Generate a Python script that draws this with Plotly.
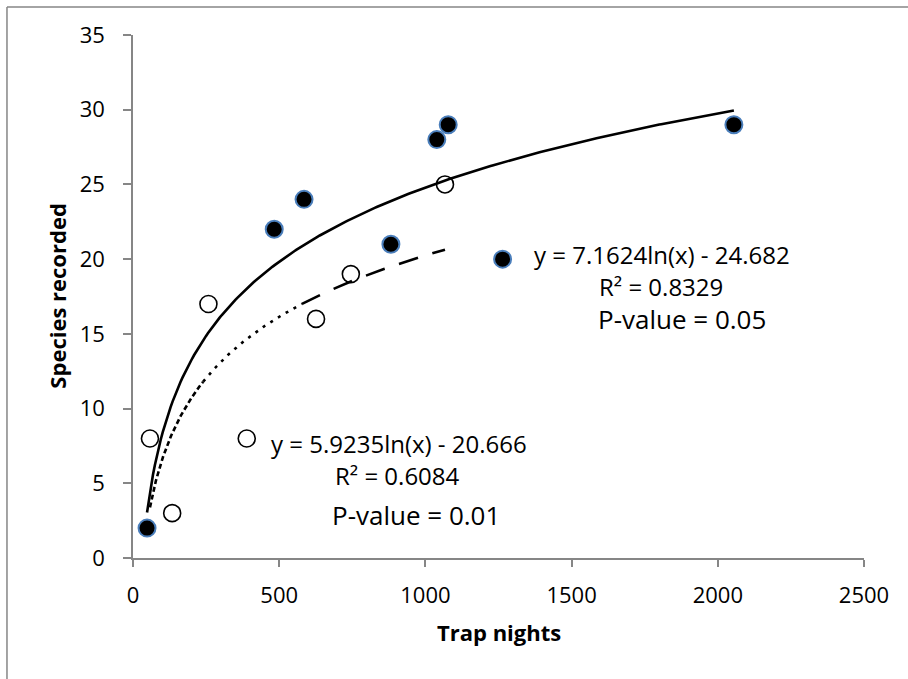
import numpy as np
import plotly.graph_objects as go

# ---- data ----
filled_x = [48, 483, 585, 882, 1039, 1078, 1264, 2055]
filled_y = [2, 22, 24, 21, 28, 29, 20, 29]

open_x = [58, 134, 258, 389, 626, 745, 1067]
open_y = [8, 3, 17, 8, 16, 19, 25]

# logarithmic trend line coefficients shown on the chart
filled_a, filled_b = 7.1624, -24.682
open_a, open_b = 5.9235, -20.666

x_ticks = [0, 500, 1000, 1500, 2000, 2500]
y_ticks = [0, 5, 10, 15, 20, 25, 30, 35]

FONT = "Open Sans"

fig = go.Figure()

fig.add_trace(go.Scatter(
    x=open_x, y=open_y, mode="markers",
    marker=dict(size=17, color="white", line=dict(color="black", width=1.6)),
    showlegend=False))
fig.add_trace(go.Scatter(
    x=filled_x, y=filled_y, mode="markers",
    marker=dict(size=17, color="black", line=dict(color="#4A7EBB", width=2)),
    showlegend=False))

# trend lines
xf = np.linspace(min(filled_x), max(filled_x), 300)
fig.add_trace(go.Scatter(x=xf, y=filled_a * np.log(xf) + filled_b, mode="lines",
                         line=dict(color="black", width=2.6), showlegend=False))

segs = [(min(open_x), 240, "5px,3px"), (240, 578, "3px,6px"), (578, max(open_x), "20px,15px")]
for lo, hi, dash in segs:
    xo = np.linspace(lo, hi, 200)
    fig.add_trace(go.Scatter(x=xo, y=open_a * np.log(xo) + open_b, mode="lines",
                             line=dict(color="black", width=2.6, dash=dash), showlegend=False))

ann_font = dict(family=FONT, size=24, color="black")
big_font = dict(family=FONT, size=26, color="black")
anns = [
    dict(x=1808, y=20.33, text="y = 7.1624ln(x) - 24.682", font=ann_font),
    dict(x=1806, y=18.2, text="R² = 0.8329", font=ann_font),
    dict(x=1878, y=15.98, text="P-value = 0.05", font=big_font),
    dict(x=909, y=7.69, text="y = 5.9235ln(x) - 20.666", font=ann_font),
    dict(x=905.6, y=5.5, text="R² = 0.6084", font=ann_font),
    dict(x=968, y=2.9, text="P-value = 0.01", font=big_font),
]
for a in anns:
    fig.add_annotation(xref="x", yref="y", showarrow=False, xanchor="center", yanchor="middle",
                       borderpad=0, **a)

fig.add_annotation(xref="paper", yref="paper", x=0.5, y=-0.141, text="<b>Trap nights</b>",
                   showarrow=False, xanchor="center", yanchor="middle",
                   font=dict(family=FONT, size=22, color="black"))
fig.add_annotation(xref="paper", yref="paper", x=-0.1044, y=0.501, text="<b>Species recorded</b>",
                   showarrow=False, xanchor="center", yanchor="middle", textangle=-90,
                   font=dict(family=FONT, size=22, color="black"))

# chart-area border (left and top edges visible)
border = dict(color="#868686", width=1.5)
fig.add_shape(type="line", xref="paper", yref="paper", x0=-0.1724, y0=1.0535, x1=-0.1724, y1=-0.27,
              line=border, layer="below")
fig.add_shape(type="line", xref="paper", yref="paper", x0=-0.1724, y0=1.0535, x1=1.1, y1=1.0535,
              line=border, layer="below")

axis_common = dict(showgrid=False, zeroline=False, showline=True, linecolor="#868686", linewidth=1.5,
                   ticks="outside", tickcolor="#868686", tickwidth=1.5,
                   tickfont=dict(family=FONT, size=22, color="black"))
fig.update_xaxes(range=[0, 2500], tickvals=x_ticks, ticklen=7, ticklabelstandoff=10, **axis_common)
fig.update_yaxes(range=[0, 35], tickvals=y_ticks, ticklen=8, ticklabelstandoff=14, **axis_common)

fig.update_layout(width=908, height=679, margin=dict(l=133, r=44, t=35, b=121),
                  plot_bgcolor="white", paper_bgcolor="white", font=dict(family=FONT))

fig.write_html("out.html")
